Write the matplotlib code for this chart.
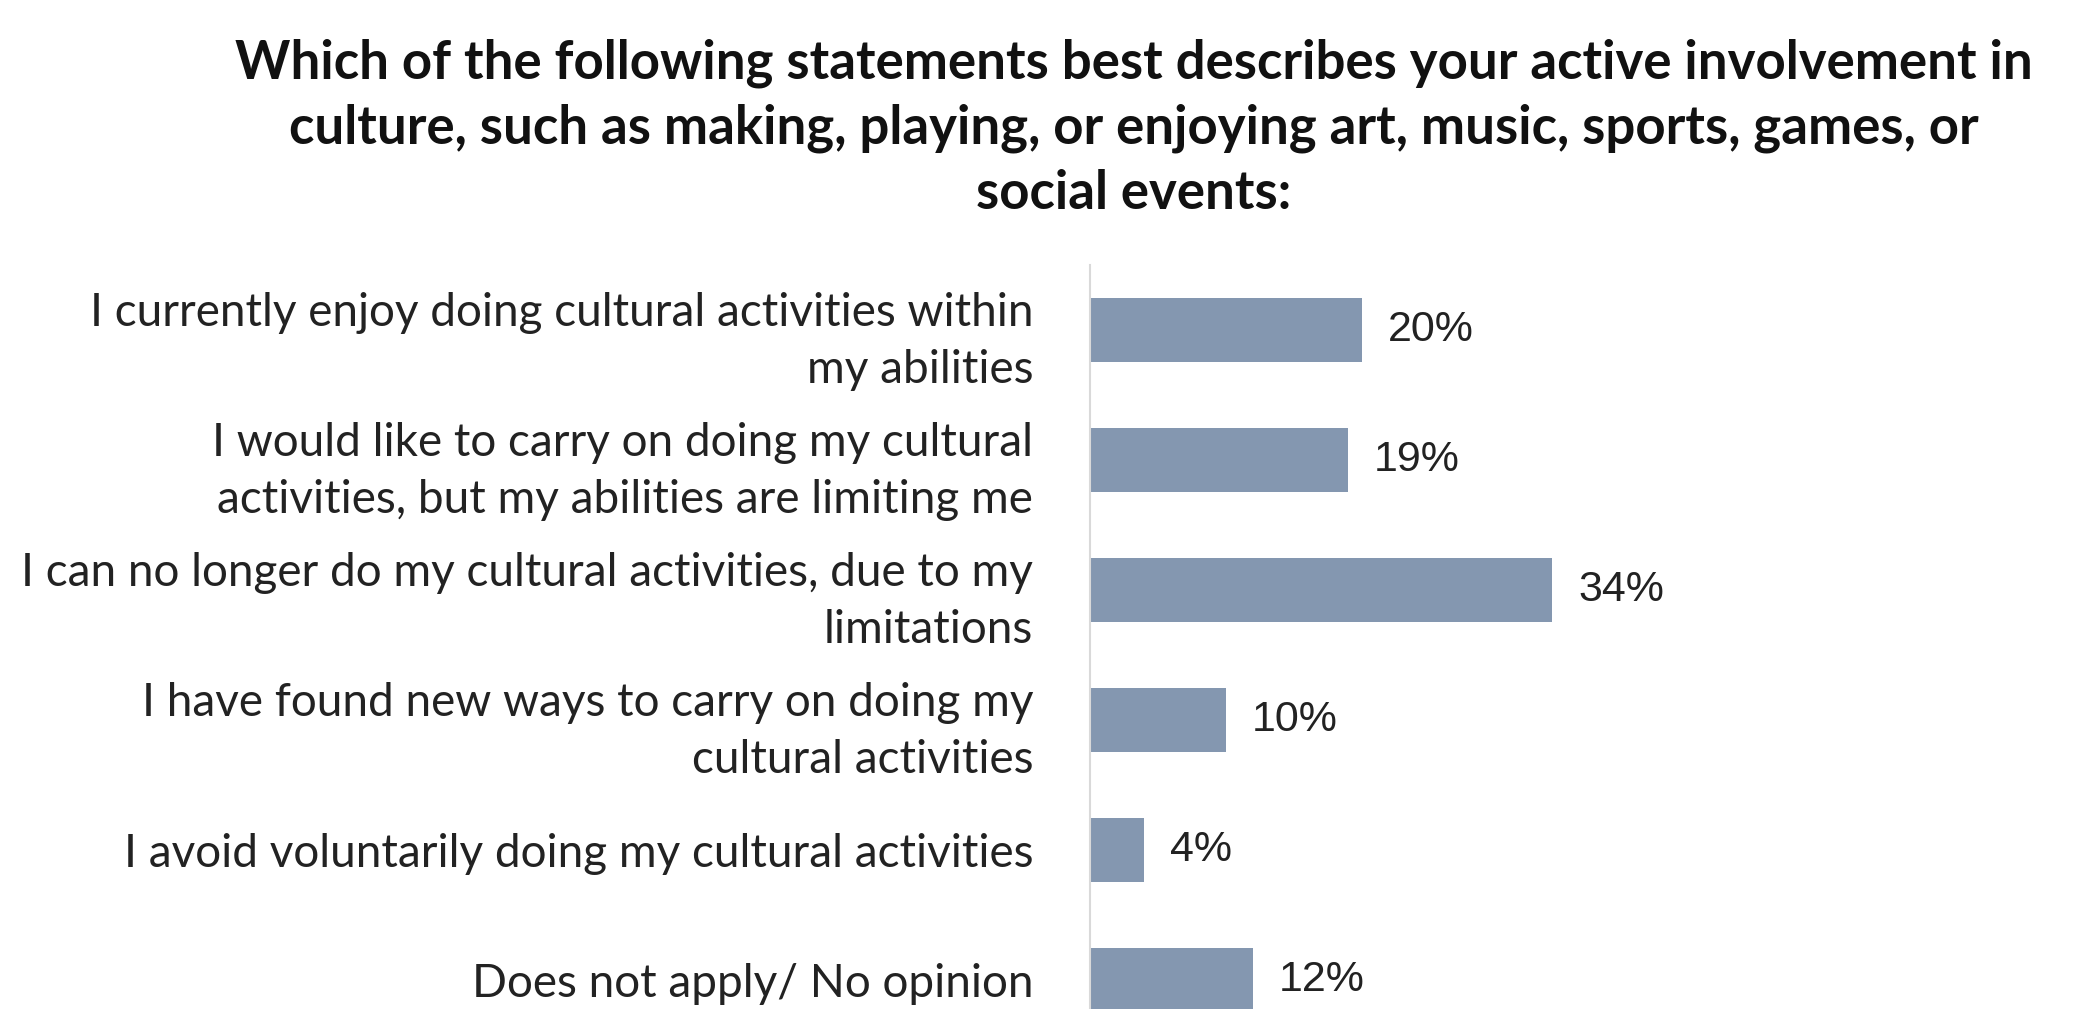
import matplotlib
matplotlib.use("Agg")
import matplotlib.pyplot as plt

# survey answers, top to bottom
categories = [
    "I currently enjoy doing cultural activities within\nmy abilities",
    "I would like to carry on doing my cultural\nactivities, but my abilities are limiting me",
    "I can no longer do my cultural activities, due to my\nlimitations",
    "I have found new ways to carry on doing my\ncultural activities",
    "I avoid voluntarily doing my cultural activities",
    "Does not apply/ No opinion",
]
values = [20, 19, 34, 10, 4, 12]
value_labels = ["20%", "19%", "34%", "10%", "4%", "12%"]

title = ("Which of the following statements best describes your active involvement in\n"
         "culture, such as making, playing, or enjoying art, music, sports, games, or\n"
         "social events:")

W, H = 2076, 1009
fig = plt.figure(figsize=(W / 100, H / 100), dpi=100)
fig.patch.set_facecolor("white")

# axes placed in pixel terms
ax_left, ax_top, ax_w = 1090, 265, 900
ax = fig.add_axes([ax_left / W, 0, ax_w / W, (H - ax_top) / H])

ypos = list(range(len(values)))
ax.barh(ypos, values, height=0.49, color="#8497b0")
ax.set_xlim(0, ax_w / 13.6)
ax.set_ylim(5.223, -0.5)

for y, v, lab in zip(ypos, values, value_labels):
    ax.text(v + 1.9, y, lab, va="center", ha="left", fontsize=31,
            family="Liberation Sans", color="#222222")

ax.set_yticks(ypos)
ax.set_yticklabels(categories, fontsize=33, family="Lato", color="#222222",
                   linespacing=1.45)
ax.tick_params(axis="y", length=0, pad=41)
ax.set_xticks([])
for s in ["top", "right", "bottom"]:
    ax.spines[s].set_visible(False)
ax.spines["left"].set_color("#d9d9d9")
ax.spines["left"].set_linewidth(1.5)

fig.text(1134 / W, 1 - 128 / H, title, ha="center", va="center",
         fontsize=38, fontweight="bold", family="Lato", linespacing=1.4,
         color="#111111")

fig.savefig("out.png", dpi=100, facecolor="white")
